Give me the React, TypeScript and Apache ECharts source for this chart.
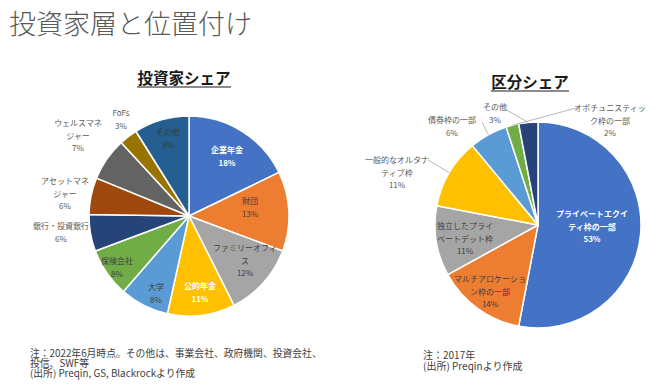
import React, { useEffect, useRef } from "react";
import * as echarts from "echarts";

const FONT = "'Noto Sans CJK JP', 'Noto Sans', sans-serif";

// Left pie: 投資家シェア
const investorNames = [
  "企業年金",
  "財団",
  "ファミリーオフィ\nス",
  "公的年金",
  "大学",
  "保険会社",
  "銀行・投資銀行",
  "アセットマネ\nジャー",
  "ウェルスマネ\nジャー",
  "FoFs",
  "その他",
];
const investorValues = [18, 13, 12, 11, 8, 8, 6, 6, 7, 3, 9];
const investorColors = [
  "#4472C4", "#ED7D31", "#A5A5A5", "#FFC000", "#5B9BD5", "#70AD47",
  "#264478", "#9E480E", "#636363", "#997300", "#255E91",
];
const investorLabelPos = [
  [227, 156], [250, 207], [245, 260], [200, 292], [156, 293], [117, 267],
  [61, 232], [65, 193], [78, 135], [121, 119], [168, 138],
];
const investorLabelColor = ["#ffffff", "#404040", "#404040", "#ffffff", "#404040", "#404040", "#595959", "#595959", "#595959", "#595959", "#3a3a3a"];
const investorLabelBold = [true, false, false, true, false, false, false, false, false, false, false];

// Right pie: 区分シェア
const segmentNames = [
  "プライベートエクイ\nティ枠の一部",
  "マルチアロケーショ\nン枠の一部",
  "独立したプライ\nベートデット枠",
  "一般的なオルタナ\nティブ枠",
  "債券枠の一部",
  "オポチュニスティッ\nク枠の一部",
  "その他",
];
const segmentValues = [53, 14, 11, 11, 6, 2, 3];
const segmentColors = ["#4472C4", "#ED7D31", "#A5A5A5", "#FFC000", "#5B9BD5", "#70AD47", "#264478"];
const segmentLabelPos = [
  [592, 226], [490, 291], [465, 238], [397, 172], [452, 126], [610, 120], [495, 113],
];
// leader-line end next to each outside label (null = inside label, no line)
const segmentLineEnd: (number[] | null)[] = [null, null, null, [428, 160], [482, 122], [580, 107], [503, 108]];
const segmentLabelColor = ["#ffffff", "#404040", "#404040", "#595959", "#595959", "#595959", "#595959"];
const segmentLabelBold = [true, false, false, false, false, false, false];

const LEFT_CENTER = [189, 216];
const LEFT_RADIUS = 100;
const RIGHT_CENTER = [538, 225];
const RIGHT_RADIUS = 103;

function buildData(names: string[], values: number[], colors: string[], lc: string[], bold: boolean[]) {
  return names.map((n, i) => ({
    name: n,
    value: values[i],
    itemStyle: { color: colors[i] },
    label: {
      color: lc[i],
      fontWeight: bold[i] ? "bold" : "normal",
    },
  }));
}

// point on the outer edge of a slice, at its mid angle (clockwise from 12 o'clock)
function sliceEdgePoint(values: number[], idx: number, center: number[], r: number) {
  const total = values.reduce((a, b) => a + b, 0);
  let before = 0;
  for (let k = 0; k < idx; k++) before += values[k];
  const frac = (before + values[idx] / 2) / total;
  const ang = frac * Math.PI * 2;
  return [center[0] + r * Math.sin(ang), center[1] - r * Math.cos(ang)];
}

export default function App() {
  const ref = useRef<HTMLDivElement>(null);
  useEffect(() => {
    if (!ref.current) return;
    const chart = echarts.init(ref.current, undefined, { renderer: "svg" });
    const labelBase = {
      show: true,
      position: "inside",
      formatter: (p: any) => `${p.name}\n${p.value}%`,
      fontSize: 8,
      lineHeight: 12.5,
      fontFamily: FONT,
      align: "center",
      overflow: "none",
    };
    const leaderLines = segmentLineEnd
      .map((end, i) => {
        if (!end) return null;
        const s = sliceEdgePoint(segmentValues, i, RIGHT_CENTER, RIGHT_RADIUS);
        return {
          type: "line",
          silent: true,
          z: 10,
          shape: { x1: s[0], y1: s[1], x2: end[0], y2: end[1] },
          style: { stroke: "#A6A6A6", lineWidth: 0.8 },
        };
      })
      .filter((x) => x != null);
    chart.setOption({
      animation: false,
      backgroundColor: "#ffffff",
      textStyle: { fontFamily: FONT },
      title: [
        {
          text: "投資家層と位置付け",
          left: 9,
          top: 9,
          padding: 0,
          textStyle: { fontSize: 27, fontWeight: 300, color: "#595959", fontFamily: FONT },
        },
        {
          text: "投資家シェア",
          left: 184,
          top: 69,
          padding: 0,
          textAlign: "center",
          textStyle: { fontSize: 15.5, fontWeight: "bold", color: "#1a1a1a", fontFamily: FONT },
        },
        {
          text: "区分シェア",
          left: 530,
          top: 73,
          padding: 0,
          textAlign: "center",
          textStyle: { fontSize: 15.5, fontWeight: "bold", color: "#1a1a1a", fontFamily: FONT },
        },
      ],
      graphic: [
        { type: "line", shape: { x1: 137, y1: 87, x2: 231, y2: 87 }, style: { stroke: "#1a1a1a", lineWidth: 1.2 } },
        { type: "line", shape: { x1: 491, y1: 91, x2: 569, y2: 91 }, style: { stroke: "#1a1a1a", lineWidth: 1.2 } },
        ...leaderLines,
        {
          type: "text",
          left: 30,
          top: 347.5,
          style: {
            text: "注：2022年6月時点。その他は、事業会社、政府機関、投資会社、\n投信、SWF等\n(出所) Preqin, GS, Blackrockより作成",
            fontSize: 9.8,
            lineHeight: 10,
            fill: "#404040",
            fontFamily: FONT,
          },
        },
        {
          type: "text",
          left: 423,
          top: 348.5,
          style: {
            text: "注：2017年\n(出所) Preqinより作成",
            fontSize: 10,
            lineHeight: 11,
            fill: "#404040",
            fontFamily: FONT,
          },
        },
      ],
      series: [
        {
          type: "pie",
          center: LEFT_CENTER,
          radius: LEFT_RADIUS,
          startAngle: 90,
          clockwise: true,
          itemStyle: { borderColor: "#ffffff", borderWidth: 1.5 },
          label: labelBase,
          labelLine: { show: false },
          labelLayout: (params: any) => {
            const p = investorLabelPos[params.dataIndex];
            return { x: p[0], y: p[1], align: "center", verticalAlign: "middle" };
          },
          data: buildData(investorNames, investorValues, investorColors, investorLabelColor, investorLabelBold),
        },
        {
          type: "pie",
          center: RIGHT_CENTER,
          radius: RIGHT_RADIUS,
          startAngle: 90,
          clockwise: true,
          itemStyle: { borderColor: "#ffffff", borderWidth: 1.5 },
          label: labelBase,
          labelLine: { show: false },
          labelLayout: (params: any) => {
            const p = segmentLabelPos[params.dataIndex];
            return { x: p[0], y: p[1], align: "center", verticalAlign: "middle" };
          },
          data: buildData(segmentNames, segmentValues, segmentColors, segmentLabelColor, segmentLabelBold),
        },
      ],
    });
    return () => chart.dispose();
  }, []);
  return (
    <div
      ref={ref}
      style={{ position: "absolute", left: 0, top: 0, width: 660, height: 387 }}
    />
  );
}
